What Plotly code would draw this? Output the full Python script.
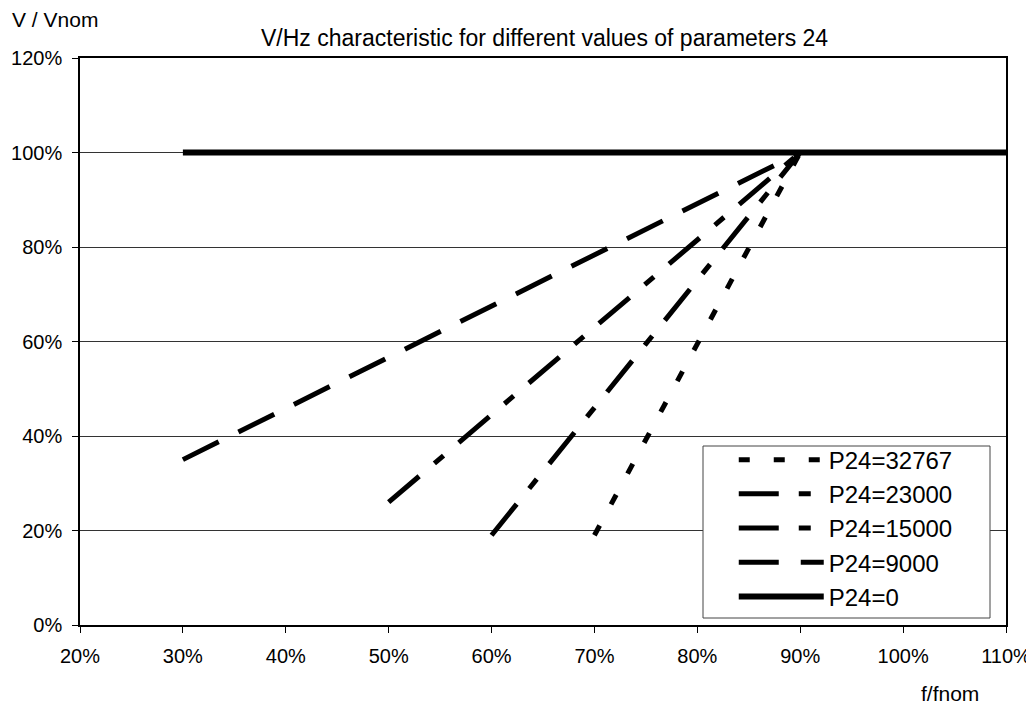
import plotly.graph_objects as go

# Data (fractions of nominal)
names = ["P24=32767", "P24=23000", "P24=15000", "P24=9000", "P24=0"]
f_32767 = [0.70, 0.90, 1.10]
v_32767 = [0.19, 1.00, 1.00]
f_23000 = [0.60, 0.90, 1.10]
v_23000 = [0.19, 1.00, 1.00]
f_15000 = [0.50, 0.90, 1.10]
v_15000 = [0.26, 1.00, 1.00]
f_9000 = [0.30, 0.90, 1.10]
v_9000 = [0.35, 1.00, 1.00]
f_0 = [0.30, 1.10]
v_0 = [1.00, 1.00]

xs = [f_32767, f_23000, f_15000, f_9000, f_0]
ys = [v_32767, v_23000, v_15000, v_9000, v_0]
dashes = ["11px,24px", "40px,20px,12px,20px", "40px,20px,12px,20px", "40px,22px", "solid"]
widths = [5, 5, 5, 5, 6]

FONT = "Liberation Sans, Arial, sans-serif"

fig = go.Figure()
for i, n in enumerate(names):
    fig.add_trace(go.Scatter(
        x=xs[i], y=ys[i], mode="lines", name=n,
        line=dict(color="black", width=widths[i], dash=dashes[i]),
    ))

fig.update_layout(
    width=1026, height=699,
    margin=dict(l=72, r=28, t=50, b=82),
    plot_bgcolor="white", paper_bgcolor="white",
    font=dict(family=FONT, color="black", size=20),
    showlegend=True,
    legend=dict(
        x=0.706, xanchor="left", y=0.171, yanchor="middle",
        borderwidth=0, bgcolor="rgba(0,0,0,0)",
        font=dict(size=24, family=FONT),
        itemwidth=85,
    ),
    xaxis=dict(
        range=[0.2, 1.1], dtick=0.1, tick0=0.2, tickformat=".0%",
        showgrid=False, zeroline=False, automargin=False,
        showline=True, linecolor="black", linewidth=1.5, mirror=True,
        ticks="outside", ticklen=6, tickcolor="black",
        tickfont=dict(size=20), ticklabelstandoff=6,
    ),
    yaxis=dict(
        range=[0, 1.2], dtick=0.2, tick0=0, tickformat=".0%",
        showgrid=True, gridcolor="#333", gridwidth=1, zeroline=False, automargin=False,
        showline=True, linecolor="black", linewidth=1.5, mirror=True,
        ticks="outside", ticklen=6, tickcolor="black",
        tickfont=dict(size=20), ticklabelstandoff=6,
    ),
    shapes=[
        dict(type="rect", xref="paper", yref="paper",
             x0=(703 - 80) / 926, x1=(990 - 80) / 926,
             y0=(625 - 618) / 567, y1=(625 - 446) / 567,
             fillcolor="white", line=dict(color="#444", width=1), layer="above"),
    ],
    annotations=[
        dict(text="V/Hz characteristic for different values of parameters 24",
             xref="paper", yref="paper", x=0.502, y=1.035,
             xanchor="center", yanchor="middle", showarrow=False,
             font=dict(size=23)),
        dict(text="V / Vnom", xref="paper", yref="paper", x=-0.0756, y=1.068,
             xanchor="left", yanchor="middle", showarrow=False,
             font=dict(size=21)),
        dict(text="f/fnom", xref="paper", yref="paper", x=0.9395, y=-0.12,
             xanchor="center", yanchor="middle", showarrow=False,
             font=dict(size=21)),
    ],
)

fig.write_html("out.html")
